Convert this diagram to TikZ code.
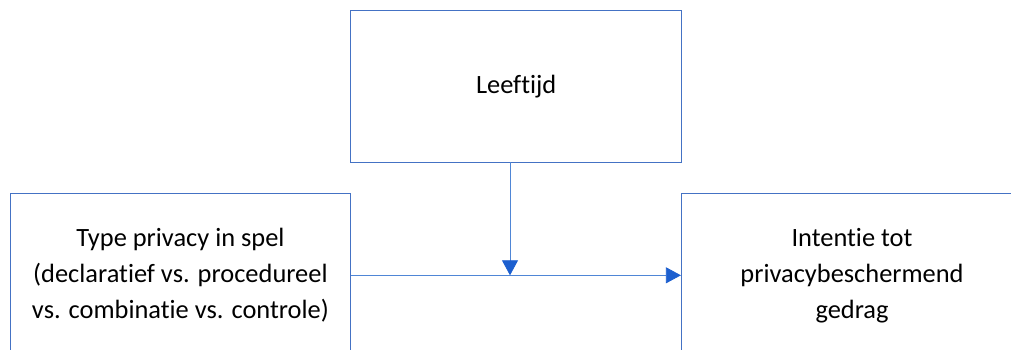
\documentclass[tikz,border=0pt]{standalone}
\usepackage{fontspec}
\setmainfont[Ligatures=NoCommon]{Carlito}
\usetikzlibrary{arrows.meta}
\definecolor{boxblue}{RGB}{68,114,196}
\definecolor{lineblue}{RGB}{79,134,214}
\definecolor{tipblue}{RGB}{28,95,207}
\begin{document}
\begin{tikzpicture}[x=1pt,y=-1pt,
  box/.style={draw=boxblue,line width=0.8pt,fill=white,inner sep=0pt,align=center,
    font=\fontsize{26.4}{36}\selectfont},
  conn/.style={draw=lineblue,line width=0.8pt,-{Triangle[width=16pt,length=15pt,color=tipblue]}}]
\useasboundingbox (0,0) rectangle (1011,349);
\clip (0,0) rectangle (1011,349);
\node[box,minimum width=331pt,minimum height=151.3pt] (age) at (516.2,86.3) {Leeftijd};
\node[box,minimum width=340.7pt,minimum height=164pt] (type) at (180.4,275.3)
  {Type privacy in spel\\(declaratief vs. procedureel\\vs. combinatie vs. controle)};
\node[box,minimum width=341.4pt,minimum height=164pt] (int) at (852,275.3)
  {Intentie tot\\privacybeschermend\\gedrag};
\coordinate (m) at (510,275.3);
\draw[conn] (type.east) -- (int.west);
\draw[conn] (age.south -| m) -- (m);
\end{tikzpicture}
\end{document}
